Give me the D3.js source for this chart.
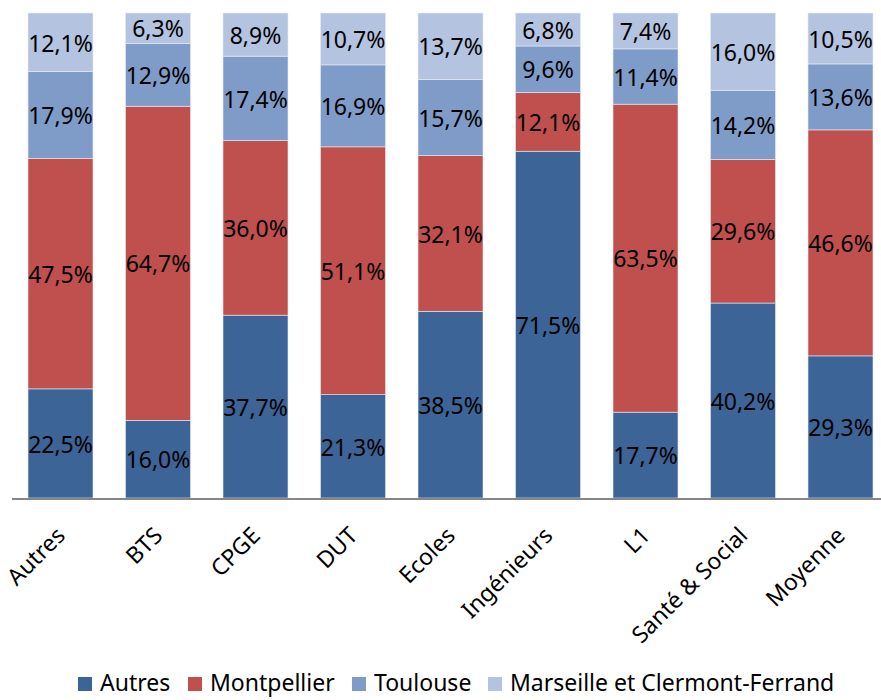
<!DOCTYPE html>
<html>
<head>
<meta charset="utf-8">
<script src="https://cdn.jsdelivr.net/npm/d3@7"></script>
<style>
  body { margin: 0; background: #fff; }
  text { font-family: "Noto Sans", "Open Sans", sans-serif; fill: #000; }
</style>
</head>
<body>
<div id="chart"></div>
<script>
// Data (percent)
var categories = ["Autres", "BTS", "CPGE", "DUT", "Ecoles", "Ingénieurs", "L1", "Santé & Social", "Moyenne"];
var seriesNames = ["Autres", "Montpellier", "Toulouse", "Marseille et Clermont-Ferrand"];
var autres      = [22.5, 16.0, 37.7, 21.3, 38.5, 71.5, 17.7, 40.2, 29.3];
var montpellier = [47.5, 64.7, 36.0, 51.1, 32.1, 12.1, 63.5, 29.6, 46.6];
var toulouse    = [17.9, 12.9, 17.4, 16.9, 15.7,  9.6, 11.4, 14.2, 13.6];
var marseille   = [12.1,  6.3,  8.9, 10.7, 13.7,  6.8,  7.4, 16.0, 10.5];
var colors = ["#3D6496", "#C0504D", "#7F9CC9", "#B4C3DF"];

var svgWidth = 881;
var svgHeight = 700;

var svg = d3.select("#chart")
    .append("svg")
    .attr("width", svgWidth)
    .attr("height", svgHeight);

// build rows for d3.stack
var seriesValues = [autres, montpellier, toulouse, marseille];
var rows = categories.map(function(c, i) {
    var row = { cat: c };
    seriesNames.forEach(function(s, j) { row[s] = seriesValues[j][i]; });
    return row;
});

var stack = d3.stack()
    .keys(seriesNames)
    .offset(d3.stackOffsetExpand);
var stacked = stack(rows);

var xScale = d3.scaleBand()
    .domain(categories)
    .range([11.75, 889.25])
    .paddingInner(1 / 3)
    .paddingOuter(1 / 6);

var yScale = d3.scaleLinear()
    .domain([0, 1])
    .range([498, 13]);

// bars
var layers = svg.selectAll("g.layer")
    .data(stacked)
    .enter()
    .append("g")
    .attr("class", "layer")
    .attr("fill", (d, i) => colors[i]);

layers.selectAll("rect")
    .data(d => d)
    .enter()
    .append("rect")
    .attr("x", d => xScale(d.data.cat))
    .attr("y", d => yScale(d[1]))
    .attr("width", xScale.bandwidth())
    .attr("height", d => yScale(d[0]) - yScale(d[1]))
    .attr("stroke", "#E6EBF3")
    .attr("stroke-width", 0.6);

// value labels
layers.selectAll("text")
    .data(function(d) { var key = d.key; return d.map(p => ({ p: p, key: key })); })
    .enter()
    .append("text")
    .attr("x", d => xScale(d.p.data.cat) + xScale.bandwidth() / 2)
    .attr("y", d => (yScale(d.p[0]) + yScale(d.p[1])) / 2)
    .attr("dy", "0.4em")
    .attr("text-anchor", "middle")
    .style("font-size", "23px")
    .text(d => d3.format(".1f")(d.p.data[d.key]).replace(".", ",") + "%");

// x axis
var bottomAxis = d3.axisBottom(xScale).tickSize(0).tickPadding(0);
var xAxis = svg.append("g")
    .attr("transform", "translate(0, 499)")
    .call(bottomAxis);
xAxis.select(".domain")
    .attr("stroke", "#868686")
    .attr("stroke-width", 2)
    .attr("d", "M12,0H881");
xAxis.selectAll(".tick text")
    .attr("transform", "translate(6, 38) rotate(-45)")
    .attr("text-anchor", "end")
    .attr("dy", 0)
    .attr("y", 0)
    .style("font-size", "23px")
    .style("font-family", "'Noto Sans', sans-serif")
    .attr("fill", "#000");

// legend
var legendX = [78, 188, 352, 488];
var legend = svg.selectAll("g.legend")
    .data(seriesNames)
    .enter()
    .append("g")
    .attr("class", "legend")
    .attr("transform", (d, i) => `translate(${legendX[i]}, 677)`);

legend.append("rect")
    .attr("width", 14)
    .attr("height", 14)
    .attr("fill", (d, i) => colors[i]);

legend.append("text")
    .attr("x", 22)
    .attr("y", 14)
    .style("font-size", "23px")
    .text(d => d);
</script>
</body>
</html>
